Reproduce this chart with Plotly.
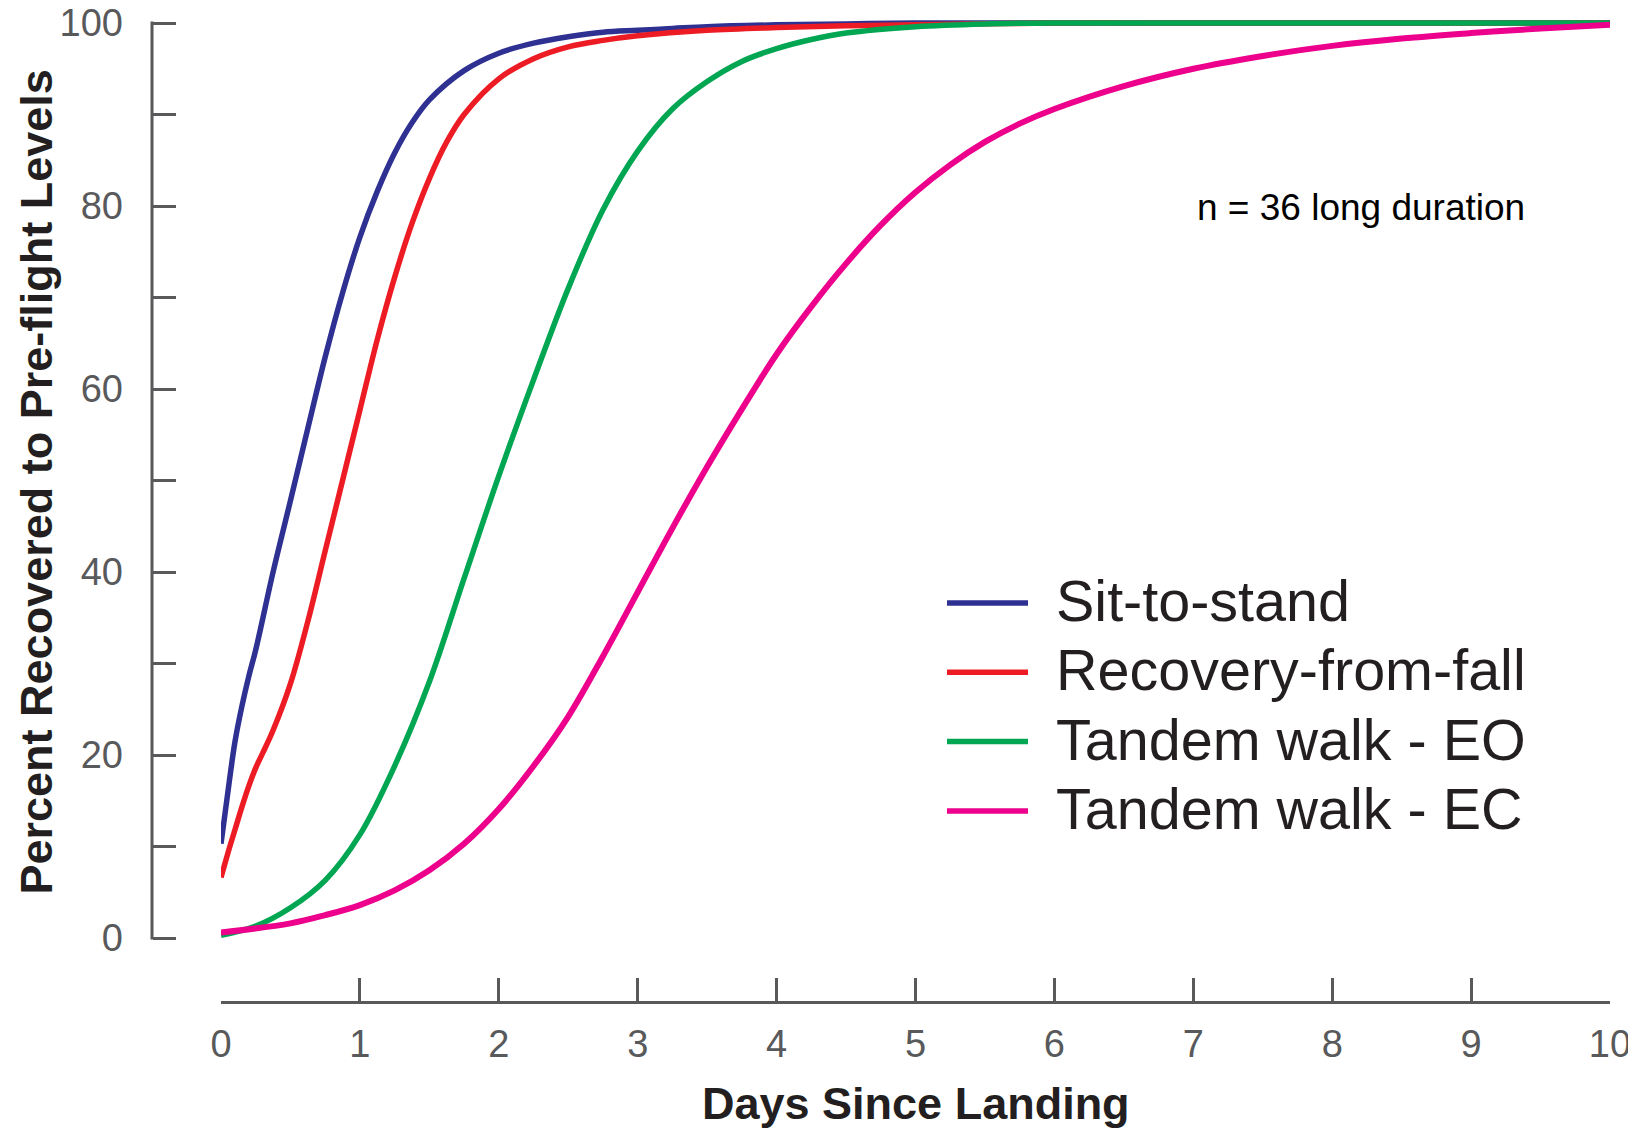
import plotly.graph_objects as go

# the page puts the figure 8 px in from the top-left corner of the window
OFF = 8
W, H = 1636 - OFF, 1130 - OFF

# values
series_names = ["Sit-to-stand", "Recovery-from-fall", "Tandem walk - EO", "Tandem walk - EC"]
series_colors = ["#2e3192", "#ed1c24", "#00a651", "#ec008c"]

sit_x = [0, 0.05, 0.1, 0.15, 0.2, 0.25, 0.375, 0.5, 0.625, 0.75, 0.875, 1.0, 1.125, 1.25, 1.375,
         1.5, 1.75, 2.0, 2.25, 2.5, 2.75, 3.0, 3.25, 3.5, 4.0, 4.5, 5, 6, 7, 8, 9, 10]
sit_y = [10.3, 16.0, 21.4, 25.3, 28.6, 31.5, 40.0, 47.8, 55.7, 63.5, 70.5, 76.6, 81.6, 85.8, 89.1,
         91.6, 94.8, 96.7, 97.8, 98.5, 99.0, 99.2, 99.4, 99.6, 99.8, 99.9, 100, 100, 100, 100, 100, 100]

fall_x = [0, 0.05, 0.1, 0.15, 0.2, 0.25, 0.3, 0.375, 0.5, 0.625, 0.75, 0.875, 1.0, 1.125, 1.25,
          1.375, 1.5, 1.625, 1.75, 2.0, 2.25, 2.5, 2.75, 3.0, 3.5, 4.0, 4.5, 5, 6, 7, 8, 9, 10]
fall_y = [6.6, 9.3, 11.8, 14.3, 16.6, 18.6, 20.2, 22.7, 27.8, 34.6, 42.3, 50.0, 57.7, 65.4, 72.2,
          78.1, 83.0, 87.0, 90.0, 93.9, 96.1, 97.4, 98.1, 98.6, 99.2, 99.5, 99.7, 99.8, 100, 100, 100, 100, 100]

eo_x = [0, 0.25, 0.5, 0.75, 1.0, 1.25, 1.5, 1.75, 2.0, 2.25, 2.5, 2.75, 3.0, 3.25, 3.5, 3.75,
        4.0, 4.25, 4.5, 5.0, 5.5, 6, 7, 8, 9, 10]
eo_y = [0.3, 1.3, 3.3, 6.3, 11.3, 18.8, 28.0, 39.3, 50.5, 61.0, 71.0, 79.6, 86.0, 90.6, 93.6, 95.8,
        97.2, 98.2, 98.9, 99.6, 99.9, 100, 100, 100, 100, 100]

ec_x = [0, 0.5, 0.75, 1.0, 1.25, 1.5, 1.75, 2.0, 2.25, 2.5, 2.75, 3.0, 3.25, 3.5, 3.75, 4.0, 4.25,
        4.5, 4.75, 5.0, 5.25, 5.5, 5.75, 6.0, 6.5, 7.0, 7.5, 8.0, 8.5, 9.0, 9.5, 10]
ec_y = [0.6, 1.6, 2.5, 3.6, 5.2, 7.4, 10.3, 14.1, 18.8, 24.2, 30.8, 37.8, 44.8, 51.5, 57.8, 63.8, 69.0,
        73.7, 77.9, 81.5, 84.5, 87.0, 89.0, 90.6, 93.1, 95.0, 96.4, 97.5, 98.3, 98.9, 99.4, 99.8]

x_ticks = list(range(0, 11))
y_ticks = [0, 20, 40, 60, 80, 100]
note_text = "n = 36 long duration"
x_title = "Days Since Landing"
y_title = "Percent Recovered to Pre-flight Levels"

FONT = "Liberation Sans, Arial, Helvetica, sans-serif"
AXIS_COLOR = "#58595b"
TEXT_COLOR = "#231f20"
line_widths = [5.5, 5.5, 5.5, 6]


# screenshot pixel -> paper fraction
def px(x):
    return (x - OFF) / W


def py(y):
    return 1 - (y - OFF) / H


# pixel frame of the plotting area (value 0 -> 938, 100 -> 23; day 0 -> 221, day 10 -> 1610)
Y0_PIX, Y100_PIX = 938, 23
X0_PIX, X10_PIX = 221, 1610
per_unit = (Y0_PIX - Y100_PIX) / 100.0
y_lo, y_hi = -0.5, 100.6
dom_bottom = py(Y0_PIX - per_unit * y_lo)
dom_top = py(Y0_PIX - per_unit * y_hi)

fig = go.Figure()
for name, color, lw, xs, ys in zip(series_names, series_colors, line_widths,
                                   [sit_x, fall_x, eo_x, ec_x], [sit_y, fall_y, eo_y, ec_y]):
    fig.add_trace(go.Scatter(
        x=xs, y=ys, mode="lines", name=name,
        line=dict(color=color, width=lw, shape="spline", smoothing=1.0),
        showlegend=False,
    ))

fig.update_layout(
    template="none",
    width=W, height=H,
    margin=dict(l=0, r=0, t=0, b=0, pad=0),
    paper_bgcolor="white", plot_bgcolor="white",
    font=dict(family=FONT, color=TEXT_COLOR),
    showlegend=False,
    xaxis=dict(
        domain=[px(X0_PIX), px(X10_PIX)],
        range=[0, 10], automargin=False,
        anchor="free", position=py(1002),
        showline=True, linecolor=AXIS_COLOR, linewidth=3,
        ticks="inside", ticklen=23, tickwidth=3, tickcolor=AXIS_COLOR,
        tickvals=x_ticks, ticklabelstandoff=7, ticklabeloverflow="allow",
        tickfont=dict(size=38, color=AXIS_COLOR, family=FONT),
        showgrid=False, zeroline=False,
    ),
    yaxis=dict(
        domain=[dom_bottom, dom_top],
        range=[y_lo, y_hi], automargin=False,
        anchor="free", position=px(152),
        showline=False,
        ticks="inside", ticklen=23, tickwidth=3, tickcolor=AXIS_COLOR,
        tickvals=y_ticks, ticklabelstandoff=29, ticklabeloverflow="allow",
        tickfont=dict(size=38, color=AXIS_COLOR, family=FONT),
        minor=dict(tickvals=[10, 30, 50, 70, 90], ticks="inside", ticklen=23,
                   tickwidth=3, tickcolor=AXIS_COLOR),
        showgrid=False, zeroline=False,
    ),
)

shapes = [
    # y axis spine, only from 0 to 100
    dict(type="line", xref="paper", yref="paper",
         x0=px(152), x1=px(152), y0=py(Y0_PIX + 1.5), y1=py(Y100_PIX - 1.5),
         line=dict(color=AXIS_COLOR, width=3)),
]
annotations = [
    dict(text=x_title, xref="paper", yref="paper", x=px((X0_PIX + X10_PIX) / 2), y=py(1103),
         xanchor="center", yanchor="middle", showarrow=False,
         font=dict(size=45, family=FONT, color=TEXT_COLOR, weight="bold")),
    dict(text=y_title, xref="paper", yref="paper", x=px(36), y=py((Y0_PIX + Y100_PIX) / 2 + 2),
         xanchor="center", yanchor="middle", showarrow=False, textangle=-90,
         font=dict(size=45, family=FONT, color=TEXT_COLOR, weight="bold")),
    dict(text=note_text, xref="paper", yref="paper", x=px(1195), y=py(207),
         xanchor="left", yanchor="middle", showarrow=False,
         font=dict(size=37, family=FONT, color="black")),
]

# hand-drawn legend, long line swatches as in the original
for i, (name, color) in enumerate(zip(series_names, series_colors)):
    ly = 603 + 69.3 * i
    shapes.append(dict(type="line", xref="paper", yref="paper",
                       x0=px(947), x1=px(1028), y0=py(ly), y1=py(ly),
                       line=dict(color=color, width=5.5)))
    annotations.append(dict(text=name, xref="paper", yref="paper", x=px(1054), y=py(ly - 2),
                            xanchor="left", yanchor="middle", showarrow=False,
                            font=dict(size=57.5, family=FONT, color=TEXT_COLOR)))

fig.update_layout(shapes=shapes, annotations=annotations)

fig.write_html("out.html")
